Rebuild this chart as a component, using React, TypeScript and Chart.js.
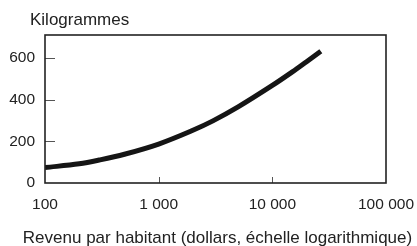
import React, { useEffect, useRef } from 'react';
import { Chart, registerables } from 'chart.js';

Chart.register(...registerables);

// Data
const incomes = [100, 200, 300, 500, 1000, 2000, 3000, 5000, 10000, 15000, 20000, 26700];
const kilograms = [74, 92, 110, 138, 187, 253, 298, 365, 468, 533, 582, 632];

const xTickValues = [100, 1000, 10000, 100000];
const xTickLabels = ['100', '1 000', '10 000', '100 000'];
const yTickValues = [0, 200, 400, 600];

const yTitle = 'Kilogrammes';
const xTitle = 'Revenu par habitant (dollars, échelle logarithmique)';

const FONT = '"Liberation Sans", Arial, Helvetica, sans-serif';

const framePlugin = {
  id: 'frame',
  afterDraw(chart: any) {
    const { ctx, chartArea } = chart;
    const { left, right, top, bottom } = chartArea;
    const xs = chart.scales.x;
    const ys = chart.scales.y;
    ctx.save();
    // inward tick marks
    ctx.strokeStyle = '#555';
    ctx.lineWidth = 1;
    ys.ticks.forEach((t: any) => {
      if (t.value <= 0) return;
      const y = Math.round(ys.getPixelForValue(t.value)) + 0.5;
      ctx.beginPath();
      ctx.moveTo(left, y);
      ctx.lineTo(left + 10, y);
      ctx.stroke();
    });
    xs.ticks.forEach((t: any) => {
      const x = Math.round(xs.getPixelForValue(t.value)) + 0.5;
      if (x <= left + 1 || x >= right - 1) return;
      ctx.beginPath();
      ctx.moveTo(x, bottom);
      ctx.lineTo(x, bottom - 6);
      ctx.stroke();
    });
    // frame
    ctx.strokeStyle = '#222';
    ctx.lineWidth = 1.6;
    ctx.strokeRect(left, top, right - left, bottom - top);
    // titles
    ctx.fillStyle = '#222';
    ctx.font = `17px ${FONT}`;
    ctx.textBaseline = 'alphabetic';
    ctx.textAlign = 'left';
    ctx.fillText(yTitle, 30, 25);
    ctx.textAlign = 'center';
    ctx.fillText(xTitle, 217.5, 243);
    ctx.restore();
  },
};

export default function App() {
  const ref = useRef<HTMLCanvasElement | null>(null);
  useEffect(() => {
    document.body.style.margin = '0';
    const canvas = ref.current!;
    const chart = new Chart(canvas, {
      type: 'line',
      data: {
        labels: incomes,
        datasets: [
          {
            data: incomes.map((x, i) => ({ x, y: kilograms[i] })),
            borderColor: '#151515',
            borderWidth: 5,
            pointRadius: 0,
            tension: 0.35,
            fill: false,
          },
        ],
      },
      options: {
        responsive: false,
        animation: false,
        devicePixelRatio: 1,
        layout: { padding: { left: 0, right: 31, top: 35, bottom: 0 } },
        plugins: {
          legend: { display: false },
          tooltip: { enabled: false },
          title: { display: false },
        },
        scales: {
          x: {
            type: 'logarithmic',
            min: 100,
            max: 100000,
            grid: { display: false, drawTicks: false },
            border: { display: false },
            afterBuildTicks: (scale: any) => {
              scale.ticks = xTickValues.map((v) => ({ value: v }));
            },
            afterFit: (scale: any) => {
              scale.height = 63;
              scale.paddingLeft = 0;
              scale.paddingRight = 0;
            },
            ticks: {
              autoSkip: false,
              maxRotation: 0,
              padding: 12,
              color: '#222',
              font: { family: FONT, size: 15.5 },
              callback: (v: any) => {
                const i = xTickValues.indexOf(Number(v));
                return i >= 0 ? xTickLabels[i] : '';
              },
            },
          },
          y: {
            type: 'linear',
            min: 0,
            max: 710,
            grid: { display: false, drawTicks: false },
            border: { display: false },
            afterBuildTicks: (scale: any) => {
              scale.ticks = yTickValues.map((v) => ({ value: v }));
            },
            afterFit: (scale: any) => {
              scale.width = 45;
              scale.paddingTop = 0;
              scale.paddingBottom = 0;
            },
            ticks: {
              padding: 10,
              color: '#222',
              font: { family: FONT, size: 15.5 },
            },
          },
        },
      },
      plugins: [framePlugin],
    } as any);
    return () => chart.destroy();
  }, []);
  return (
    <div style={{ position: 'absolute', left: 0, top: 0, width: 417, height: 246 }}>
      <canvas ref={ref} width={417} height={246} style={{ width: 417, height: 246 }} />
    </div>
  );
}
